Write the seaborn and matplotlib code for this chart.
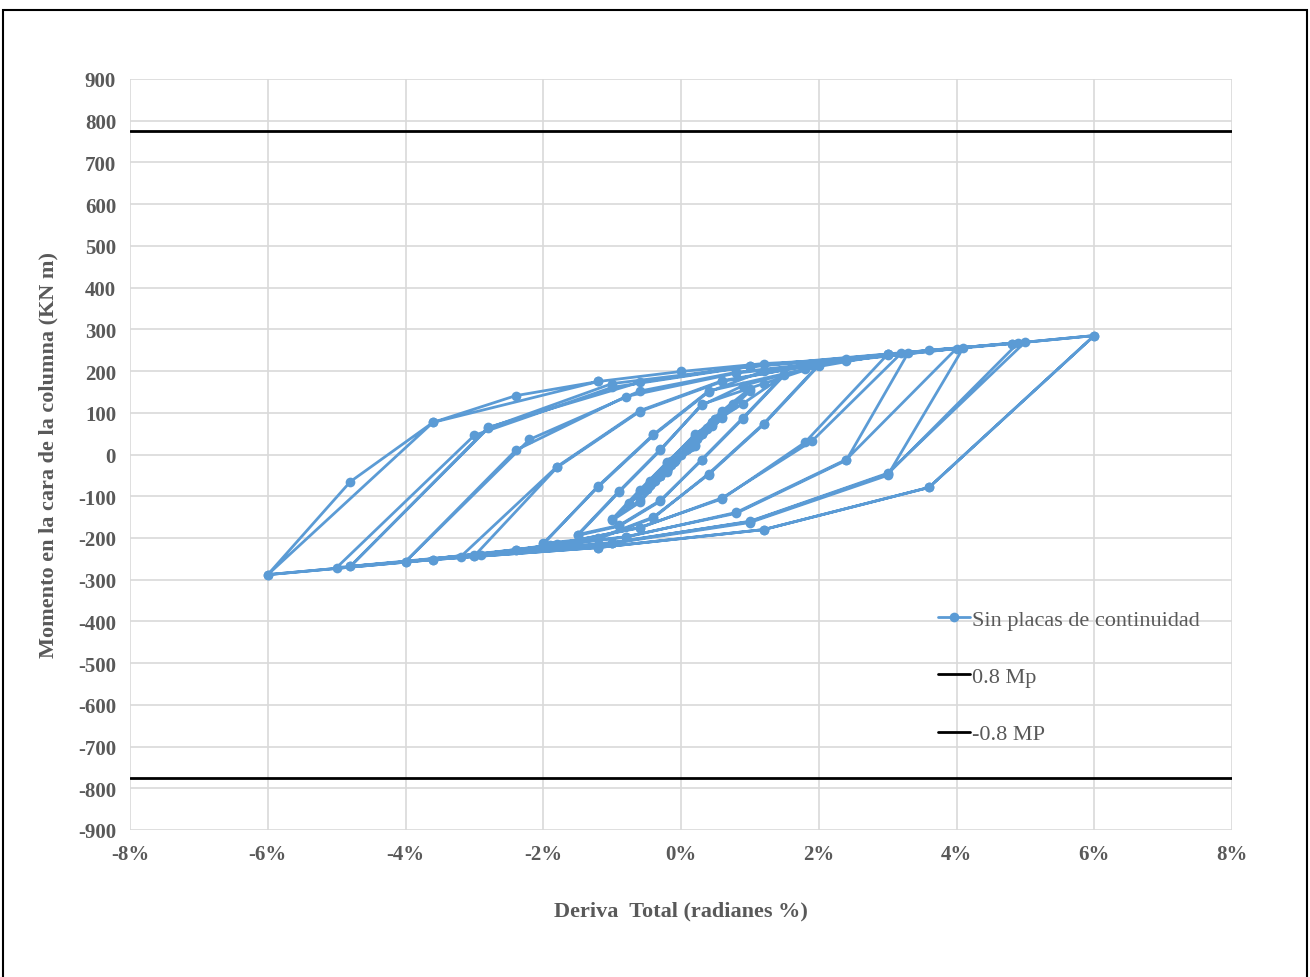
import matplotlib
matplotlib.use("Agg")
import matplotlib.pyplot as plt
import seaborn as sns
import pandas as pd
from matplotlib.patches import Rectangle

# ---------------- data (drift in %, moment in kN m) ----------------
drift = [
    0.0,
    # 0.375 % cycles
    0.19, 0.375, 0.23, 0.08, -0.08, -0.19, -0.375, -0.23, -0.08, 0.08,
    0.2, 0.375, 0.22, 0.07, -0.09, -0.2, -0.375, -0.22, -0.07, 0.09,
    # 0.5 % cycles
    0.3, 0.5, 0.3, 0.1, -0.1, -0.3, -0.5, -0.3, -0.1, 0.1,
    0.3, 0.5, 0.31, 0.11, -0.11, -0.3, -0.5, -0.31, -0.1, 0.1,
    # 0.75 % cycles
    0.45, 0.75, 0.45, 0.15, -0.15, -0.45, -0.75, -0.45, -0.15, 0.15,
    0.45, 0.75, 0.45, 0.15, -0.15, -0.45, -0.75, -0.45, -0.15, 0.15,
    # 1 % cycles
    0.6, 1.0, 0.6, 0.2, -0.2, -0.6, -1.0, -0.6, -0.2, 0.2,
    0.6, 1.0, 0.6, 0.2, -0.2, -0.6, -1.0, -0.6, -0.2, 0.2,
    # 1.5 % cycles
    0.9, 1.5, 0.9, 0.3, -0.3, -0.9, -1.5, -0.9, -0.3, 0.3,
    0.9, 1.5, 0.9, 0.3, -0.3, -0.9, -1.5, -0.9, -0.3, 0.3,
    # 2 % cycles
    1.2, 2.0, 1.2, 0.4, -0.4, -1.2, -2.0, -1.2, -0.4, 0.4,
    1.2, 2.0, 1.2, 0.4, -0.4, -1.2, -2.0, -1.2, -0.4, 0.4,
    # 3 % cycles
    1.8, 3.0, 1.8, 0.6, -0.6, -1.8, -3.0, -1.8, -0.6, 0.6,
    1.8, 3.2, 1.9, 0.6, -0.6, -1.9, -3.2, -1.8, -0.6, 0.6,
    1.9, 3.3,
    # 4 % cycles
    2.4, 0.8, -0.8, -2.4, -4.0, -2.4, -0.8, 0.8, 2.4, 4.0,
    2.4, 0.8, -0.8, -2.4, -4.0, -2.2, -0.6, 0.8, 2.4, 4.1,
    # 5 % cycles
    3.0, 1.0, -1.0, -3.0, -5.0, -3.0, -1.0, 1.0, 3.0, 5.0,
    3.0, 1.0, -1.0, -2.9, -4.8, -2.8, -0.6, 1.0, 3.0, 4.9,
    3.0, 1.0, -1.0, -3.0, -4.8, -2.8, -1.0, 1.0, 3.0, 4.8,
    # 6 % cycles
    6.0, 3.6, 1.2, -1.2, -3.6, -6.0, -4.8, -3.6, -2.4, -1.2, 0.0,
    1.2, 2.4, 3.6, 4.8, 6.0, 3.6, 1.2, -1.2, -3.6, -6.0, -3.6, -1.2,
]

moment = [
    0,
    33, 62, 37, 12, -14, -32, -63, -38, -12, 13,
    34, 63, 36, 11, -15, -33, -62, -37, -11, 14,
    50, 84, 50, 16, -17, -50, -83, -51, -16, 17,
    51, 85, 51, 18, -18, -51, -82, -52, -15, 18,
    76, 118, 68, 18, -22, -72, -116, -66, -18, 22,
    77, 120, 70, 20, -24, -74, -118, -64, -16, 24,
    100, 152, 88, 20, -40, -110, -155, -85, -18, 45,
    105, 158, 90, 22, -42, -115, -158, -88, -20, 48,
    122, 190, 86, -14, -110, -170, -192, -88, 12, 118,
    165, 192, 88, -12, -112, -172, -194, -90, 10, 120,
    170, 213, 72, -48, -150, -200, -213, -77, 46, 150,
    200, 215, 74, -46, -152, -202, -215, -75, 48, 152,
    205, 240, 29, -106, -175, -215, -243, -31, 103, 175,
    212, 243, 32, -104, -176, -217, -245, -29, 105, 177,
    214, 244,
    -14, -141, -197, -228, -257, 10, 139, 195, 225, 254,
    -12, -139, -198, -229, -257, 36, 152, 197, 226, 256,
    -50, -163, -213, -243, -271, 46, 161, 211, 240, 270,
    -45, -160, -212, -241, -268, 65, 173, 212, 241, 268,
    -47, -161, -211, -240, -268, 63, 170, 210, 239, 266,
    285, -79, -180, -223, -252, -288, -65, 77, 141, 175, 199,
    218, 228, 250, 266, 285, -79, -180, -223, -252, -288, 77, 175,
]

mp_pos = 774.6
mp_neg = -774.6

series_label = "Sin placas de continuidad"
mp_pos_label = "0.8 Mp"
mp_neg_label = "-0.8 MP"

x_ticks = [-8, -6, -4, -2, 0, 2, 4, 6, 8]
y_ticks = list(range(-900, 1000, 100))

# ---------------- plot ----------------
sns.set_theme(style="whitegrid")
plt.rcParams["font.family"] = ["Liberation Serif", "DejaVu Serif"]

fig = plt.figure(figsize=(13.1, 9.78), dpi=100)
ax = fig.add_axes([130 / 1310, 1 - 831 / 978, (1232 - 130) / 1310, (831 - 80) / 978])

df = pd.DataFrame({"drift": drift, "moment": moment})
sns.lineplot(data=df, x="drift", y="moment", sort=False, estimator=None,
             color="#5B9BD5", linewidth=2, marker="o", markersize=7,
             markeredgewidth=0, label=series_label, ax=ax)

ref = pd.DataFrame({"x": [-8, 8], "pos": [mp_pos, mp_pos], "neg": [mp_neg, mp_neg]})
sns.lineplot(data=ref, x="x", y="pos", color="black", linewidth=2, label=mp_pos_label, ax=ax)
sns.lineplot(data=ref, x="x", y="neg", color="black", linewidth=2, label=mp_neg_label, ax=ax)

ax.set_xlim(-8, 8)
ax.set_ylim(-900, 900)
ax.set_xticks(x_ticks)
ax.set_xticklabels([f"{t}%" for t in x_ticks])
ax.set_yticks(y_ticks)
ax.set_yticklabels([str(t) for t in y_ticks])

ax.grid(True, color="#d9d9d9", linewidth=1.2)
for s in ax.spines.values():
    s.set_visible(False)
ax.tick_params(axis="both", length=0, labelsize=15, labelcolor="#595959", pad=10)
for lab in ax.get_xticklabels() + ax.get_yticklabels():
    lab.set_fontweight("bold")

ax.set_xlabel("Deriva  Total (radianes %)", fontsize=16, fontweight="bold",
              color="#595959", labelpad=26)
ax.set_ylabel("Momento en la cara de la columna (KN m)", fontsize=16,
              fontweight="bold", color="#595959", labelpad=14)

leg = ax.legend(loc="center left", bbox_to_anchor=(0.7155, 0.204), frameon=False,
                fontsize=16, labelspacing=1.65, handlelength=1.4, handletextpad=0.1,
                labelcolor="#595959")

fig.patches.append(Rectangle((3 / 1310, -0.01), 1304 / 1310, 1 - 11 / 978 + 0.01,
                             transform=fig.transFigure, fill=False,
                             edgecolor="black", linewidth=1.5))

fig.savefig("out.png", dpi=100)
